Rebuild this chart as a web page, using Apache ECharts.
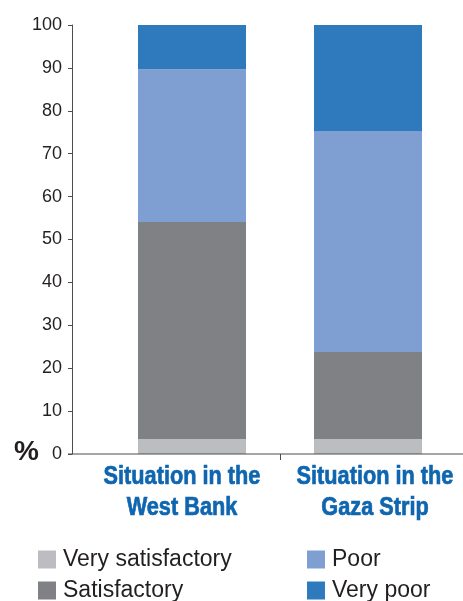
<!DOCTYPE html>
<html>
<head>
<meta charset="utf-8">
<script src="https://cdn.jsdelivr.net/npm/echarts@6/dist/echarts.min.js"></script>
<style>
html,body{margin:0;padding:0;background:#fff;}
#chart{width:463px;height:601px;}
</style>
</head>
<body>
<div id="chart"></div>
<script>
const categories = ['Situation in the\nWest Bank', 'Situation in the\nGaza Strip'];
const verySatisfactory = [3.5, 3.5];
const satisfactory = [50.6, 20.3];
const poor = [35.6, 51.5];
const veryPoor = [10.3, 24.7];
const yTicks = [0, 10, 20, 30, 40, 50, 60, 70, 80, 90, 100];

const colors = {
  vs: '#bcbdc1', s: '#808185', p: '#7f9fd3', vp: '#2e7abd'
};

const chart = echarts.init(document.getElementById('chart'), null, {renderer: 'canvas'});

function barSeries(name, data, color) {
  return {
    name: name, type: 'bar', stack: 'total', data: data, barWidth: 108,
    itemStyle: {color: color}, emphasis: {disabled: true}
  };
}

const legendText = {fontFamily: 'Liberation Sans', fontSize: 23, color: '#231f20', padding: [0, 0, 0, 2]};

chart.setOption({
  animation: false,
  grid: {left: 104, right: 7, top: 25, bottom: 147, containLabel: false, outerBoundsMode: 'none'},
  xAxis: {
    type: 'category',
    data: categories,
    axisLine: {show: false},
    axisTick: {show: false},
    axisLabel: {show: false}
  },
  yAxis: {
    type: 'value', min: yTicks[0], max: yTicks[yTicks.length - 1], interval: 10,
    offset: 32,
    splitLine: {show: false},
    axisLine: {show: true, lineStyle: {color: '#4d4d4f', width: 1}},
    axisTick: {show: true, length: 4, lineStyle: {color: '#4d4d4f', width: 1}},
    axisLabel: {margin: 10, fontFamily: 'Liberation Sans', fontSize: 18, color: '#231f20'}
  },
  legend: [
    {
      data: ['Very satisfactory', 'Satisfactory'], orient: 'vertical',
      left: 38, top: 548, height: 100, padding: 0, itemWidth: 18, itemHeight: 18, itemGap: 8,
      icon: 'rect', textStyle: legendText, selectedMode: false
    },
    {
      data: ['Poor', 'Very poor'], orient: 'vertical',
      left: 307, top: 548, height: 100, padding: 0, itemWidth: 18, itemHeight: 18, itemGap: 8,
      icon: 'rect', textStyle: legendText, selectedMode: false
    }
  ],
  series: [
    barSeries('Very satisfactory', verySatisfactory, colors.vs),
    barSeries('Satisfactory', satisfactory, colors.s),
    barSeries('Poor', poor, colors.p),
    barSeries('Very poor', veryPoor, colors.vp)
  ]
});

const y0 = chart.convertToPixel({yAxisIndex: 0}, 0);
const xa = chart.convertToPixel({xAxisIndex: 0}, categories[0]);
const xb = chart.convertToPixel({xAxisIndex: 0}, categories[1]);
const xMid = Math.round((xa + xb) / 2) + 0.5;
const labelShift = [-10, 7];
function catLabel(text, x) {
  return {
    type: 'text', x: x, y: y0 + 7, scaleX: 0.835,
    style: {
      text: text, font: 'bold 26px Liberation Sans', fill: '#0f66af',
      stroke: '#0f66af', lineWidth: 0.7,
      align: 'center', verticalAlign: 'top', lineHeight: 31
    }
  };
}
chart.setOption({
  graphic: [
    {type: 'line', shape: {x1: 68, y1: y0, x2: 463, y2: y0}, style: {stroke: '#4d4d4f', lineWidth: 1}, z: 10},
    {type: 'line', shape: {x1: xMid, y1: y0, x2: xMid, y2: y0 + 6}, style: {stroke: '#4d4d4f', lineWidth: 1}, z: 10},
    {type: 'text', left: 14, top: y0 - 16, style: {text: '%', font: 'bold 28px Liberation Sans', fill: '#231f20'}},
    catLabel(categories[0], xa + labelShift[0]),
    catLabel(categories[1], xb + labelShift[1])
  ]
});
</script>
</body>
</html>
